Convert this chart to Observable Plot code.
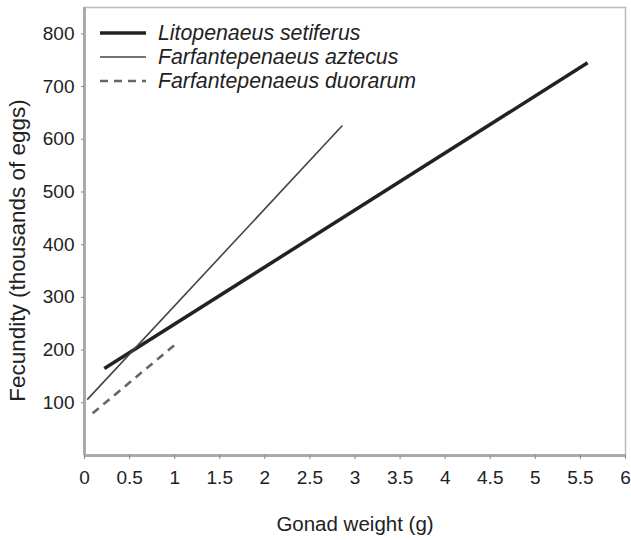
<!DOCTYPE html>
<html>
<head>
<meta charset="utf-8">
<script src="https://cdn.jsdelivr.net/npm/d3@7"></script>
<script src="https://cdn.jsdelivr.net/npm/@observablehq/plot@0.6"></script>
<style>
  body { margin: 0; background: #fff; }
  #wrap { position: relative; width: 631px; height: 540px; font-family: "Liberation Sans", Arial, sans-serif; }
  #legend { position: absolute; left: 100px; top: 21px; }
  .row { display: flex; align-items: center; height: 24px; }
  .row svg { width: 46px; height: 10px; margin-right: 12px; }
  .row span { font-style: italic; font-size: 21.3px; color: #222; }
</style>
</head>
<body>
<div id="wrap"></div>
<script>
const species = ["Litopenaeus setiferus", "Farfantepenaeus aztecus", "Farfantepenaeus duorarum"];
const gonadStart = [0.22, 0.03, 0.09];
const gonadEnd = [5.58, 2.86, 1.03];
const fecundityStart = [165, 106, 80];
const fecundityEnd = [745, 626, 214];
const xTicks = [0, 0.5, 1, 1.5, 2, 2.5, 3, 3.5, 4, 4.5, 5, 5.5, 6];
const yTicks = [100, 200, 300, 400, 500, 600, 700, 800];
const xLabel = "Gonad weight (g)";
const yLabel = "Fecundity (thousands of eggs)";

const styles = {
  "Litopenaeus setiferus": {stroke: "#222", strokeWidth: 3.5, dash: null},
  "Farfantepenaeus aztecus": {stroke: "#444", strokeWidth: 1.6, dash: null},
  "Farfantepenaeus duorarum": {stroke: "#666", strokeWidth: 2.6, dash: "8,6"}
};

const rows = species.flatMap((s, i) => [
  {species: s, x: gonadStart[i], y: fecundityStart[i]},
  {species: s, x: gonadEnd[i], y: fecundityEnd[i]}
]);

const lineMarks = species.map(s => Plot.line(rows.filter(d => d.species === s), {
  x: "x", y: "y",
  stroke: styles[s].stroke,
  strokeWidth: styles[s].strokeWidth,
  strokeDasharray: styles[s].dash || undefined,
  strokeLinecap: "butt"
}));

const chart = Plot.plot({
  width: 631,
  height: 540,
  marginLeft: 84,
  marginRight: 6,
  marginTop: 7,
  marginBottom: 85,
  style: {fontFamily: "Liberation Sans, Arial, sans-serif", fontSize: "19px", color: "#222", background: "#fff"},
  x: {domain: [0, 6]},
  y: {domain: [0, 850]},
  marks: [
    Plot.frame({stroke: "#bbb", strokeWidth: 1.5}),
    Plot.ruleX([0], {stroke: "#aaa", strokeWidth: 3}),
    Plot.ruleY([0], {stroke: "#aaa", strokeWidth: 3}),
    Plot.axisX(xTicks, {tickSize: 4, tickPadding: 11, stroke: "#888", fill: "#222", fontSize: 19, label: null, tickFormat: d => String(d)}),
    Plot.axisY(yTicks, {tickSize: 3, tickPadding: 7, stroke: "#888", fill: "#222", fontSize: 19, label: null, tickFormat: d => String(d)}),
    Plot.text([xLabel], {frameAnchor: "bottom", dy: 75, fontSize: 20.5, fill: "#222"}),
    Plot.text([yLabel], {frameAnchor: "left", textAnchor: "middle", rotate: -90, dx: -67, dy: 19, fontSize: 22.5, fill: "#222"}),
    ...lineMarks
  ]
});

const wrap = document.getElementById("wrap");
wrap.appendChild(chart);

const legend = document.createElement("div");
legend.id = "legend";
species.forEach(s => {
  const st = styles[s];
  const row = document.createElement("div");
  row.className = "row";
  row.innerHTML = `<svg viewBox="0 0 46 10"><line x1="0" x2="46" y1="5" y2="5" stroke="${st.stroke}" stroke-width="${st.strokeWidth}" ${st.dash ? `stroke-dasharray="${st.dash}"` : ""}/></svg><span>${s}</span>`;
  legend.appendChild(row);
});
wrap.appendChild(legend);
</script>
</body>
</html>
